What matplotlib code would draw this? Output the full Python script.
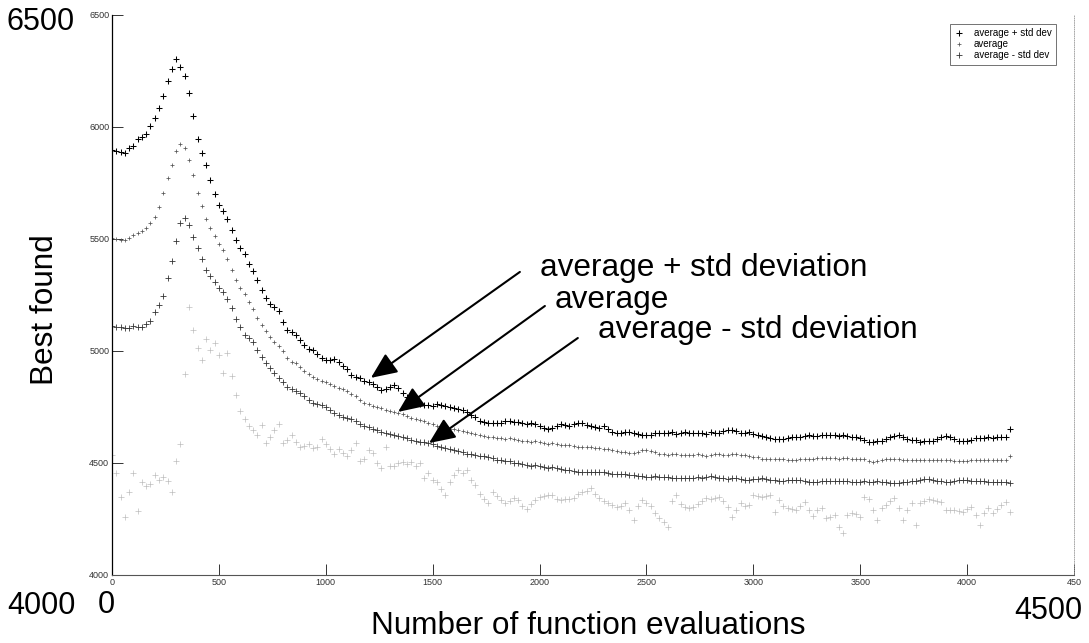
import numpy as np
import matplotlib
matplotlib.use('Agg')
import matplotlib.pyplot as plt

plt.rcParams['font.family'] = ['Liberation Sans', 'DejaVu Sans']

# ---------------- data ----------------
evaluations = np.arange(0, 4201, 20)

avg_plus_std = [
    5897, 5894, 5889, 5884, 5905, 5915, 5947, 5957, 5969, 6005,
    6041, 6084, 6139, 6205, 6258, 6304, 6268, 6226, 6152, 6047,
    5947, 5884, 5831, 5762, 5699, 5652, 5626, 5589, 5541, 5496,
    5459, 5434, 5390, 5357, 5315, 5273, 5236, 5209, 5197, 5178,
    5130, 5093, 5083, 5072, 5051, 5025, 5011, 5004, 4987, 4970,
    4958, 4962, 4964, 4951, 4933, 4918, 4893, 4883, 4878, 4867,
    4862, 4854, 4840, 4828, 4830, 4840, 4846, 4835, 4814, 4793,
    4777, 4770, 4764, 4760, 4758, 4756, 4762, 4758, 4754, 4751,
    4746, 4743, 4735, 4726, 4714, 4704, 4688, 4683, 4679, 4677,
    4680, 4678, 4686, 4688, 4684, 4683, 4677, 4675, 4680, 4673,
    4667, 4658, 4654, 4658, 4667, 4673, 4670, 4667, 4675, 4680,
    4678, 4669, 4663, 4661, 4658, 4665, 4651, 4638, 4634, 4636,
    4640, 4638, 4635, 4631, 4627, 4625, 4627, 4632, 4635, 4634,
    4633, 4637, 4631, 4634, 4638, 4635, 4632, 4636, 4633, 4629,
    4638, 4636, 4632, 4641, 4646, 4648, 4644, 4636, 4634, 4637,
    4629, 4625, 4619, 4616, 4612, 4609, 4607, 4608, 4613, 4616,
    4618, 4616, 4621, 4623, 4621, 4621, 4625, 4623, 4626, 4625,
    4619, 4623, 4621, 4616, 4614, 4612, 4604, 4595, 4593, 4596,
    4598, 4606, 4614, 4621, 4623, 4616, 4609, 4604, 4601, 4593,
    4596, 4598, 4600, 4607, 4614, 4619, 4616, 4606, 4600, 4597,
    4598, 4604, 4610, 4612, 4611, 4614, 4613, 4616, 4615, 4617,
    4652,
]

average = [
    5504, 5501, 5496, 5497, 5504, 5516, 5526, 5534, 5547, 5570,
    5599, 5645, 5705, 5771, 5831, 5894, 5926, 5905, 5852, 5784,
    5705, 5647, 5589, 5547, 5515, 5478, 5453, 5411, 5360, 5315,
    5280, 5253, 5220, 5188, 5146, 5115, 5090, 5062, 5041, 5023,
    5002, 4970, 4953, 4945, 4929, 4911, 4899, 4884, 4875, 4868,
    4860, 4851, 4843, 4836, 4829, 4820, 4808, 4797, 4783, 4769,
    4762, 4754, 4749, 4744, 4738, 4732, 4728, 4724, 4717, 4709,
    4703, 4696, 4691, 4686, 4680, 4672, 4667, 4663, 4658, 4654,
    4650, 4646, 4642, 4638, 4634, 4629, 4625, 4620, 4617, 4615,
    4612, 4610, 4609, 4611, 4608, 4604, 4600, 4597, 4594, 4596,
    4593, 4589, 4587, 4589, 4585, 4580, 4579, 4581, 4576, 4572,
    4571, 4573, 4570, 4568, 4566, 4564, 4561, 4558, 4553, 4550,
    4548, 4545, 4546, 4551, 4556, 4558, 4553, 4547, 4541, 4538,
    4536, 4538, 4541, 4537, 4535, 4534, 4536, 4538, 4535, 4533,
    4537, 4541, 4538, 4535, 4537, 4540, 4538, 4536, 4534, 4532,
    4529, 4525, 4520, 4518, 4517, 4519, 4518, 4516, 4515, 4514,
    4514, 4516, 4518, 4519, 4517, 4521, 4522, 4521, 4524, 4522,
    4520, 4521, 4522, 4519, 4518, 4516, 4518, 4511, 4504, 4508,
    4513, 4517, 4519, 4518, 4516, 4514, 4513, 4515, 4514, 4513,
    4515, 4514, 4512, 4513, 4515, 4514, 4513, 4511, 4510, 4509,
    4510, 4512, 4514, 4513, 4514, 4515, 4514, 4513, 4514, 4515,
    4532,
]

avg_minus_std = [
    5111, 5109, 5107, 5101, 5101, 5111, 5105, 5107, 5122, 5135,
    5172, 5204, 5246, 5325, 5404, 5489, 5573, 5594, 5562, 5510,
    5462, 5410, 5362, 5336, 5309, 5280, 5262, 5230, 5191, 5143,
    5107, 5070, 5059, 5038, 5004, 4972, 4946, 4923, 4904, 4881,
    4862, 4841, 4832, 4823, 4812, 4799, 4783, 4769, 4764, 4760,
    4749, 4736, 4725, 4714, 4706, 4701, 4696, 4686, 4674, 4667,
    4660, 4654, 4648, 4640, 4634, 4629, 4625, 4622, 4617, 4611,
    4604, 4599, 4595, 4593, 4590, 4583, 4575, 4572, 4567, 4563,
    4559, 4555, 4549, 4540, 4538, 4536, 4533, 4530, 4527, 4521,
    4515, 4513, 4511, 4508, 4502, 4499, 4496, 4492, 4488, 4490,
    4486, 4482, 4479, 4480, 4477, 4473, 4469, 4468, 4466, 4462,
    4460, 4462, 4461, 4459, 4462, 4458, 4455, 4452, 4451, 4453,
    4449, 4447, 4448, 4443, 4440, 4438, 4437, 4440, 4438, 4436,
    4437, 4435, 4433, 4434, 4433, 4431, 4435, 4437, 4435, 4439,
    4442, 4438, 4433, 4431, 4430, 4433, 4431, 4428, 4426, 4425,
    4427, 4429, 4431, 4429, 4426, 4422, 4420, 4419, 4422, 4425,
    4426, 4424, 4420, 4417, 4415, 4416, 4418, 4420, 4421, 4419,
    4420, 4421, 4419, 4416, 4415, 4417, 4418, 4415, 4416, 4418,
    4415, 4413, 4411, 4412, 4411, 4414, 4417, 4420, 4419, 4422,
    4427, 4429, 4426, 4421, 4418, 4415, 4416, 4419, 4422, 4425,
    4424, 4421, 4419, 4420, 4418, 4416, 4415, 4417, 4415, 4414,
    4411,
]

faint_lower = [
    4536, 4456, 4349, 4259, 4372, 4455, 4285, 4415, 4398, 4406,
    4447, 4424, 4437, 4419, 4371, 4509, 4585, 4899, 5197, 5095,
    5014, 4960, 5053, 5005, 5036, 4983, 4902, 4991, 4888, 4804,
    4732, 4698, 4667, 4648, 4625, 4670, 4590, 4614, 4646, 4674,
    4590, 4604, 4625, 4593, 4572, 4577, 4583, 4567, 4572, 4607,
    4583, 4562, 4540, 4561, 4546, 4530, 4556, 4590, 4509, 4519,
    4558, 4545, 4498, 4478, 4572, 4487, 4487, 4498, 4505, 4496,
    4505, 4488, 4500, 4433, 4456, 4424, 4415, 4382, 4357, 4414,
    4446, 4469, 4456, 4469, 4424, 4402, 4361, 4340, 4321, 4371,
    4351, 4335, 4321, 4330, 4343, 4335, 4309, 4295, 4319, 4335,
    4349, 4351, 4357, 4357, 4340, 4335, 4338, 4340, 4343, 4361,
    4371, 4377, 4389, 4361, 4343, 4330, 4321, 4314, 4303, 4309,
    4321, 4288, 4245, 4309, 4335, 4321, 4309, 4277, 4256, 4235,
    4215, 4330, 4357, 4319, 4303, 4298, 4303, 4319, 4330, 4343,
    4340, 4345, 4349, 4330, 4303, 4259, 4288, 4321, 4309, 4314,
    4357, 4351, 4349, 4353, 4357, 4281, 4335, 4309, 4299, 4293,
    4291, 4309, 4325, 4291, 4263, 4288, 4299, 4255, 4261, 4267,
    4215, 4187, 4267, 4277, 4272, 4259, 4349, 4339, 4288, 4245,
    4299, 4314, 4330, 4343, 4299, 4245, 4288, 4321, 4223, 4321,
    4330, 4339, 4335, 4330, 4325, 4291, 4288, 4291, 4285, 4281,
    4293, 4303, 4266, 4223, 4277, 4299, 4277, 4293, 4313, 4325,
    4281,
]

series_labels = ['average + std dev', 'average', 'average - std dev']
x_ticks = [0, 500, 1000, 1500, 2000, 2500, 3000, 3500, 4000, 4500]
x_tick_labels = ['0', '500', '1000', '1500', '2000', '2500', '3000', '3500', '4000', '450']
y_ticks = [4000, 4500, 5000, 5500, 6000, 6500]
y_tick_labels = ['4000', '4500', '5000', '5500', '6000', '6500']

# ---------------- figure ----------------
W, H = 1089, 643
fig = plt.figure(figsize=(W / 100, H / 100), dpi=100)
fig.patch.set_facecolor('white')
ax = fig.add_axes([112 / W, (H - 575) / H, (1074 - 112) / W, (575 - 15) / H])
ax.set_xlim(0, 4500)
ax.set_ylim(4000, 6500)

ax.plot(evaluations, faint_lower, ls='none', marker='+', ms=4, mew=0.5,
        color='#bdbdbd')
h3, = ax.plot(evaluations, avg_minus_std, ls='none', marker='+', ms=4.2,
              mew=0.6, color='#333333')
h2, = ax.plot(evaluations, average, ls='none', marker='+', ms=2.8, mew=0.55,
              color='#555555')
h1, = ax.plot(evaluations, avg_plus_std, ls='none', marker='+', ms=5,
              mew=0.75, color='black')

leg = ax.legend([h1, h2, h3], series_labels, loc='upper right',
                bbox_to_anchor=(1056 / W, 1 - 24 / H),
                bbox_transform=fig.transFigure, fontsize=7, frameon=True,
                fancybox=False, edgecolor='#333333', borderpad=0.45,
                handlelength=1.0, labelspacing=0.1, handletextpad=1.0,
                borderaxespad=0)
leg.get_frame().set_linewidth(0.6)

ax.set_xticks(x_ticks)
ax.set_xticklabels(x_tick_labels)
ax.set_yticks(y_ticks)
ax.set_yticklabels(y_tick_labels)
ax.tick_params(direction='in', length=8, width=0.7, labelsize=6.5, pad=2,
               colors='#333333')

ax.spines['top'].set_visible(False)
ax.spines['right'].set_linestyle(':')
ax.spines['right'].set_color('#999999')
ax.spines['right'].set_linewidth(0.6)
ax.spines['left'].set_linewidth(0.9)
ax.spines['bottom'].set_linewidth(0.8)
ax.spines['bottom'].set_color('#555555')

# arrows with callout texts
arrow_specs = [
    ('average + std deviation', (1211, 4880), (1908, 5353), (2002, 5370)),
    ('average', (1338, 4728), (2025, 5201), (2072, 5228)),
    ('average - std deviation', (1483, 4589), (2179, 5058), (2273, 5094)),
]
for txt, tip, tail, tpos in arrow_specs:
    ax.annotate('', xy=tip, xytext=tail,
                arrowprops=dict(arrowstyle='-|>,head_length=0.8,head_width=0.35',
                                color='black', lw=1.5, mutation_scale=20,
                                shrinkA=0, shrinkB=0))
    ax.text(tpos[0], tpos[1], txt, fontsize=22.7, ha='left', va='center')

# big overlaid labels
big = 22
fig.text(7 / W, 1 - 22 / H, '6500', fontsize=big, ha='left', va='center')
fig.text(7 / W, 1 - 606 / H, '4000', fontsize=big, ha='left', va='center')
fig.text(106 / W, 1 - 605 / H, '0', fontsize=big, ha='center', va='center')
fig.text(1048 / W, 1 - 611 / H, '4500', fontsize=big, ha='center', va='center')
fig.text(588 / W, 1 - 626 / H, 'Number of function evaluations', fontsize=22.7,
         ha='center', va='center')
fig.text(45 / W, 1 - 310 / H, 'Best found', fontsize=22.7, rotation=90,
         ha='center', va='center')

fig.savefig('out.png', dpi=100, facecolor='white')
